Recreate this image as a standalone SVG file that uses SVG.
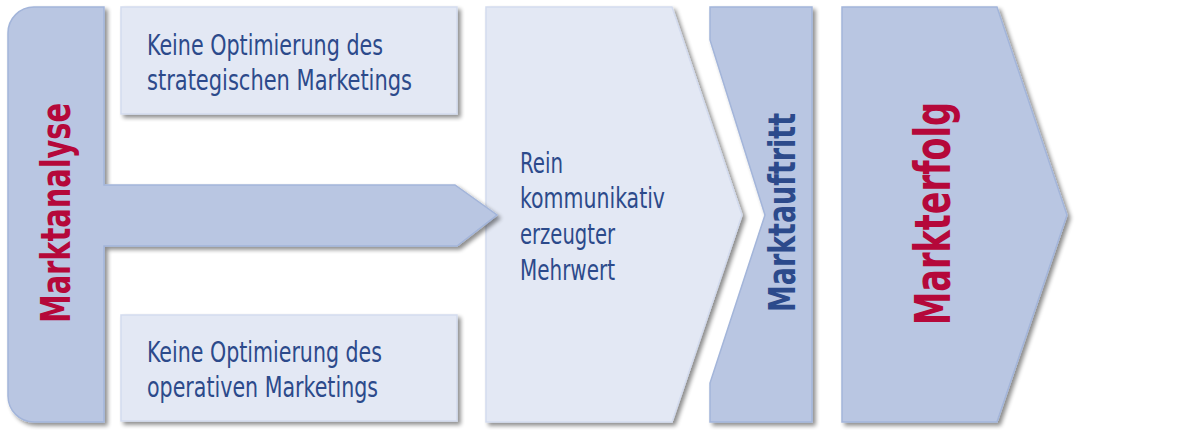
<svg xmlns="http://www.w3.org/2000/svg" width="1195" height="434" viewBox="0 0 1195 434">
<defs>
<filter id="sh" x="-10%" y="-10%" width="130%" height="130%">
<feGaussianBlur in="SourceAlpha" stdDeviation="2"/>
<feOffset dx="3" dy="3" result="b"/>
<feComponentTransfer><feFuncA type="linear" slope="0.45"/></feComponentTransfer>
<feMerge><feMergeNode/><feMergeNode in="SourceGraphic"/></feMerge>
</filter>
</defs>
<style>
.dark{fill:#b9c6e2;stroke:#a3b5da;stroke-width:1.5;filter:url(#sh)}
.light{fill:#e3e8f4;stroke:#d3dbee;stroke-width:1.5;filter:url(#sh)}
.t{font-family:"Liberation Sans Narrow","DejaVu Sans Condensed","Liberation Sans",sans-serif;font-stretch:condensed;font-size:29px;fill:#2c4a8b}
.v{font-family:"Liberation Sans Narrow","DejaVu Sans Condensed","Liberation Sans",sans-serif;font-stretch:condensed;font-weight:bold}
.red{fill:#b5083a}
.blue{fill:#2c4a8b}
</style>
<rect width="1195" height="434" fill="#ffffff"/>
<g id="connectors"></g>
<g id="mehrwert">
<path class="light" d="M486,7 L672,7 L742,215 L672,422 L486,422 Z"/>
<text class="t" x="520" y="173" textLength="43" lengthAdjust="spacingAndGlyphs">Rein</text>
<text class="t" x="520" y="208" textLength="145" lengthAdjust="spacingAndGlyphs">kommunikativ</text>
<text class="t" x="520" y="244" textLength="95" lengthAdjust="spacingAndGlyphs">erzeugter</text>
<text class="t" x="520" y="280" textLength="95" lengthAdjust="spacingAndGlyphs">Mehrwert</text>
</g>
<g id="marktanalyse">
<path class="dark" d="M34,7 L104,7 L104,185 L455,185 L497,215 L457,246 L104,246 L104,422 L34,422 A26,26 0 0 1 8,396 L8,33 A26,26 0 0 1 34,7 Z"/>
<text class="v red" font-size="40" transform="translate(70,323) rotate(-90)" textLength="220" lengthAdjust="spacingAndGlyphs">Marktanalyse</text>
</g>
<g id="box-strategisch">
<rect class="light" x="121" y="7" width="336" height="107"/>
<text class="t" x="147" y="55" textLength="236" lengthAdjust="spacingAndGlyphs">Keine Optimierung des</text>
<text class="t" x="147" y="90" textLength="265" lengthAdjust="spacingAndGlyphs">strategischen Marketings</text>
</g>
<g id="box-operativ">
<rect class="light" x="121" y="315" width="336" height="106"/>
<text class="t" x="147" y="362" textLength="235" lengthAdjust="spacingAndGlyphs">Keine Optimierung des</text>
<text class="t" x="147" y="397" textLength="231" lengthAdjust="spacingAndGlyphs">operativen Marketings</text>
</g>
<g id="marktauftritt">
<path class="dark" d="M710,7 L812,7 L812,422 L710,422 L710,383 L765,215 L710,40 Z"/>
<text class="v blue" font-size="38" transform="translate(795,312) rotate(-90)" textLength="199" lengthAdjust="spacingAndGlyphs">Marktauftritt</text>
</g>
<g id="markterfolg">
<path class="dark" d="M842,7 L997,7 L1067,215 L997,422 L842,422 Z"/>
<text class="v red" font-size="50" transform="translate(950,325) rotate(-90)" textLength="223" lengthAdjust="spacingAndGlyphs">Markterfolg</text>
</g>
</svg>
